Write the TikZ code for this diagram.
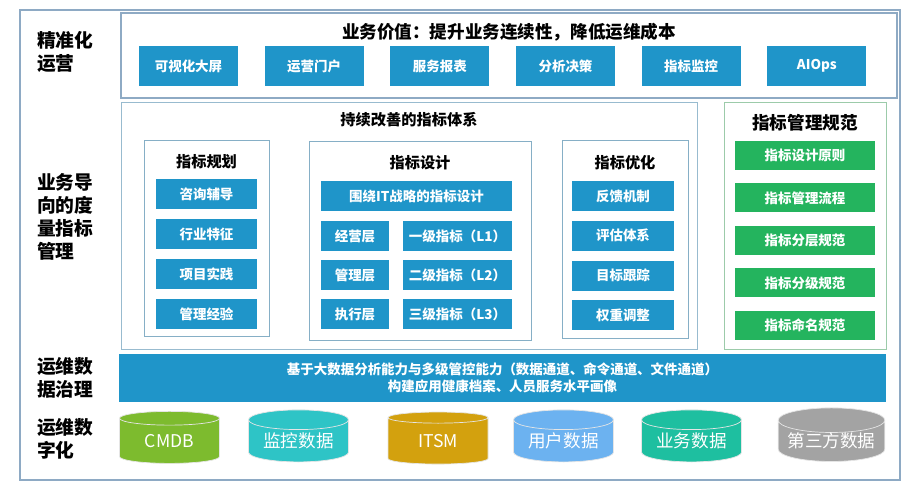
\documentclass[tikz,border=0pt]{standalone}
\usepackage{fontspec}
\setmainfont{Noto Sans CJK SC}
\usepackage{tikz}
\usetikzlibrary{shapes.geometric, positioning}
\usepackage{xcolor}
\definecolor{frameBlue}{HTML}{8EAAC4}
\definecolor{groupBlue}{HTML}{86AFC6}
\definecolor{normGreen}{HTML}{9CCBAA}
\definecolor{itemBlue}{HTML}{1F95C9}
\definecolor{itemGreen}{HTML}{24B45E}
\definecolor{cmdbGreen}{HTML}{7DBB2E}
\definecolor{monTeal}{HTML}{2EC4C6}
\definecolor{itsmGold}{HTML}{D3A10E}
\definecolor{userBlue}{HTML}{6CB2F0}
\definecolor{bizTeal}{HTML}{1EBFA0}
\definecolor{thirdGray}{HTML}{A3A3A3}

\begin{document}
\begin{tikzpicture}[
    sectionbox/.style={rectangle, draw=frameBlue, line width=0.9pt, inner sep=0pt},
    groupbox/.style={rectangle, draw=groupBlue, line width=0.7pt, inner sep=0pt},
    layerlabel/.style={font=\bfseries\fontsize{16}{19.5}\selectfont, align=left, anchor=west},
    grouptitle/.style={font=\bfseries\fontsize{13}{15}\selectfont},
    bluebtn/.style={rectangle, fill=itemBlue, text=white, font=\bfseries\fontsize{11.5}{13}\selectfont, minimum height=0.9cm, inner sep=0pt},
    greenbtn/.style={rectangle, fill=itemGreen, text=white, font=\bfseries\fontsize{11.5}{13}\selectfont, minimum width=4.2cm, minimum height=0.87cm, inner sep=0pt},
    dbcyl/.style={cylinder, shape border rotate=90, aspect=0.28, minimum width=3cm, minimum height=1.56cm, draw=white!80!gray, line width=0.6pt, text=white, font=\fontsize{15}{17}\selectfont, inner sep=0pt}
]
\useasboundingbox (0,0) rectangle (27.45,-14.73);
\fill[white] (0,0) rectangle (27.45,-14.73);

% outer frame and layer labels
\node[sectionbox, minimum width=26.4cm, minimum height=14.1cm] (frame) at (13.8,-7.35) {};
\node[layerlabel] (l1) at (0.99,-1.56) {精准化\\运营};
\node[layerlabel] (l2) at (0.99,-6.5) {业务导\\向的度\\量指标\\管理};
\node[layerlabel] (l3) at (0.99,-11.33) {运维数\\据治理};
\node[layerlabel] (l4) at (0.99,-13.17) {运维数\\字化};

% Layer 1: business value
\node[sectionbox, minimum width=23.28cm, minimum height=2.55cm] (value) at (15.27,-1.665) {};
\node[font=\bfseries\fontsize{15}{17}\selectfont] (valueT) at (15.27,-0.96) {业务价值：提升业务连续性，降低运维成本};
\node[bluebtn, minimum width=2.97cm, minimum height=1.2cm] (b1) at (5.655,-1.98) {可视化大屏};
\node[bluebtn, minimum width=2.97cm, minimum height=1.2cm, right=0.786cm of b1] (b2) {运营门户};
\node[bluebtn, minimum width=2.97cm, minimum height=1.2cm, right=0.786cm of b2] (b3) {服务报表};
\node[bluebtn, minimum width=2.97cm, minimum height=1.2cm, right=0.786cm of b3] (b4) {分析决策};
\node[bluebtn, minimum width=2.97cm, minimum height=1.2cm, right=0.786cm of b4] (b5) {指标监控};
\node[bluebtn, minimum width=2.97cm, minimum height=1.2cm, right=0.786cm of b5] (b6) {AIOps};

% Layer 2: metric system
\node[groupbox, draw=groupBlue!85, minimum width=17.28cm, minimum height=7.41cm] (sys) at (12.27,-6.765) {};
\node[grouptitle] (sysT) at (12.27,-3.6) {持续改善的指标体系};

% metric planning
\node[groupbox, minimum width=3.75cm, minimum height=5.88cm] (plan) at (6.195,-7.14) {};
\node[grouptitle] (planT) at ([yshift=-0.66cm]plan.north) {指标规划};
\node[bluebtn, minimum width=3.03cm] (p1) at (6.195,-5.82) {咨询辅导};
\node[bluebtn, minimum width=3.03cm, below=0.29cm of p1] (p2) {行业特征};
\node[bluebtn, minimum width=3.03cm, below=0.29cm of p2] (p3) {项目实践};
\node[bluebtn, minimum width=3.03cm, below=0.29cm of p3] (p4) {管理经验};

% metric design
\node[groupbox, minimum width=6.66cm, minimum height=5.97cm] (design) at (12.6,-7.215) {};
\node[grouptitle] (designT) at ([yshift=-0.66cm]design.north) {指标设计};
\node[bluebtn, minimum width=5.73cm] (wide) at (12.495,-5.88) {围绕IT战略的指标设计};
\node[bluebtn, minimum width=2.04cm, below=0.3cm of wide.south west, anchor=north west] (d1) {经营层};
\node[bluebtn, minimum width=2.04cm, below=0.25cm of d1] (d2) {管理层};
\node[bluebtn, minimum width=2.04cm, below=0.25cm of d2] (d3) {执行层};
\node[bluebtn, minimum width=3.27cm, below=0.3cm of wide.south east, anchor=north east] (k1) {一级指标（L1）};
\node[bluebtn, minimum width=3.27cm, below=0.25cm of k1] (k2) {二级指标（L2）};
\node[bluebtn, minimum width=3.27cm, below=0.25cm of k2] (k3) {三级指标（L3）};

% metric optimisation
\node[groupbox, minimum width=3.78cm, minimum height=5.94cm] (opt) at (18.75,-7.17) {};
\node[grouptitle] (optT) at ([yshift=-0.69cm]opt.north) {指标优化};
\node[bluebtn, minimum width=3.06cm] (o1) at (18.69,-5.88) {反馈机制};
\node[bluebtn, minimum width=3.06cm, below=0.28cm of o1] (o2) {评估体系};
\node[bluebtn, minimum width=3.06cm, below=0.28cm of o2] (o3) {目标跟踪};
\node[bluebtn, minimum width=3.06cm, below=0.28cm of o3] (o4) {权重调整};

% management norms
\node[groupbox, draw=normGreen, minimum width=4.86cm, minimum height=7.41cm] (norm) at (24.15,-6.765) {};
\node[font=\bfseries\fontsize{15}{17}\selectfont] (normT) at (24.15,-3.69) {指标管理规范};
\node[greenbtn] (n1) at (24.15,-4.665) {指标设计原则};
\node[greenbtn, below=0.39cm of n1] (n2) {指标管理流程};
\node[greenbtn, below=0.39cm of n2] (n3) {指标分层规范};
\node[greenbtn, below=0.39cm of n3] (n4) {指标分级规范};
\node[greenbtn, below=0.39cm of n4] (n5) {指标命名规范};

% Layer 3: data governance
\node[fill=itemBlue, text=white, font=\bfseries\fontsize{11.5}{14.5}\selectfont, align=center, minimum width=23.01cm, minimum height=1.44cm, inner sep=0pt] (gov) at (15.075,-11.34) {基于大数据分析能力与多级管控能力（数据通道、命令通道、文件通道）\\构建应用健康档案、人员服务水平画像};

% Layer 4: data sources
\node[dbcyl, fill=cmdbGreen] (db1) at (5.085,-13.23) {CMDB};
\node[dbcyl, fill=monTeal] (db2) at (8.955,-13.23) {监控数据};
\node[dbcyl, fill=itsmGold] (db3) at (13.14,-13.23) {ITSM};
\node[dbcyl, fill=userBlue] (db4) at (16.905,-13.23) {用户数据};
\node[dbcyl, fill=bizTeal] (db5) at (20.745,-13.23) {业务数据};
\node[dbcyl, fill=thirdGray, minimum width=3.2cm] (db6) at (24.945,-13.23) {第三方数据};

\end{tikzpicture}
\end{document}
